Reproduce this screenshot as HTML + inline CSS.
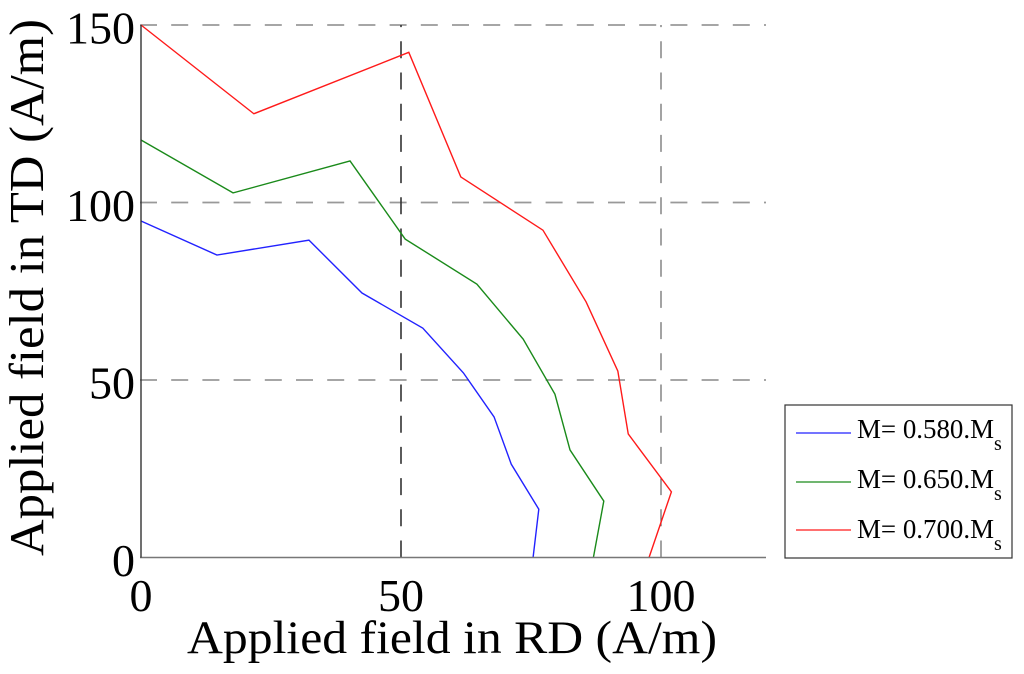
<!DOCTYPE html>
<html lang="en">
<head>
<meta charset="utf-8">
<title>Applied field chart</title>
<style>
html,body{margin:0;padding:0;background:#fff;width:1024px;height:674px;overflow:hidden}
svg{display:block}
text{font-family:"Liberation Serif",serif;fill:#000}
</style>
</head>
<body>
<svg id="chart" width="1024" height="674" viewBox="0 0 1024 674" xmlns="http://www.w3.org/2000/svg">
<g id="grid"></g>
<g id="series"></g>
<g id="axes"></g>
<text x="187" y="653" font-size="47" textLength="530" lengthAdjust="spacingAndGlyphs">Applied field in RD (A/m)</text>
<text transform="translate(43,556) rotate(-90)" font-size="49" textLength="537" lengthAdjust="spacingAndGlyphs">Applied field in TD (A/m)</text>
<g>
<rect x="785" y="405" width="227" height="153" fill="#fff" stroke="#333" stroke-width="1.2"></rect>
<g id="legend-entries"></g>
</g>
</svg>
<script>
var xTicks = [0, 50, 100];
var yTicks = [0, 50, 100, 150];
var seriesLabels = ['0.580', '0.650', '0.700'];
var seriesColors = ['#2222ff', '#1a8a1a', '#ff1a1a'];
var blueX = [0, 14.6, 32.3, 42.5, 54.2, 62, 67.9, 71.2, 76.5, 75.4];
var blueY = [94.8, 85.2, 89.4, 74.5, 64.6, 52, 39.6, 26.3, 13.6, 0];
var greenX = [0, 17.7, 40.2, 50.8, 64.6, 73.5, 79.6, 82.5, 89, 87];
var greenY = [117.6, 102.7, 111.7, 89.7, 77, 61.5, 46, 30.3, 15.9, 0];
var redX = [0, 21.7, 51.5, 61.5, 77.3, 85.6, 91.7, 93.7, 102, 97.7];
var redY = [150, 125, 142.3, 107.2, 92.2, 72, 52.5, 34.8, 18.5, 0];

var NS = 'http://www.w3.org/2000/svg';
var LEFT = 141, BOTTOM = 557.5, XMAX = 120, YMAX = 150, PX_X = 5.2, PX_Y = 3.55;
function sx(v) { return LEFT + v * PX_X; }
function sy(v) { return BOTTOM - v * PX_Y; }
function make(tag, parent, attrs) {
  var el = document.createElementNS(NS, tag);
  for (var k in attrs) el.setAttribute(k, attrs[k]);
  parent.appendChild(el);
  return el;
}
var grid = document.getElementById('grid');
var seriesG = document.getElementById('series');
var axes = document.getElementById('axes');
var legendG = document.getElementById('legend-entries');

yTicks.forEach(function (t) {
  if (t === 0) return;
  var l = make('line', grid, {x1: sx(0) - 1, x2: sx(XMAX) + 1, y1: sy(t), y2: sy(t), stroke: '#999', 'stroke-width': 1.8, 'stroke-dasharray': '17 14.2'});
  
  
});
xTicks.forEach(function (t) {
  if (t === 0) return;
  var l = make('line', grid, {x1: sx(t), x2: sx(t), y1: sy(0), y2: sy(YMAX), stroke: t === 50 ? '#333' : '#666', 'stroke-width': t === 50 ? 1.6 : 1.2, 'stroke-dasharray': '17 14.2'});
  
  
});

var allX = [blueX, greenX, redX];
var allY = [blueY, greenY, redY];
var names = ['blue', 'green', 'red'];
allX.forEach(function (xs, i) {
  var pts = xs.map(function (x, j) { return sx(x) + ',' + sy(allY[i][j]); }).join(' ');
  var p = make('polyline', seriesG, {points: pts, fill: 'none', stroke: seriesColors[i], 'stroke-width': 1.4, 'stroke-linejoin': 'miter'});
  
  
});

var xAxis = make('line', axes, {x1: sx(0) - 1, x2: sx(XMAX) + 1, y1: sy(0), y2: sy(0), stroke: '#777', 'stroke-width': 1.5});


var yAxis = make('line', axes, {x1: sx(0), x2: sx(0), y1: sy(0), y2: sy(YMAX), stroke: '#333', 'stroke-width': 1.4});



xTicks.forEach(function (t) {
  var el = make('text', axes, {x: sx(t), y: 611, 'font-size': 46, 'text-anchor': 'middle'});
  el.textContent = String(t);
  
  
});
yTicks.forEach(function (t) {
  var el = make('text', axes, {x: 135, y: sy(t) + 18.5, 'font-size': 46, 'text-anchor': 'end'});
  el.textContent = String(t);
  
  
});

var legendRows = [433, 482, 530];
var legendBaselines = [438, 488, 538];
seriesLabels.forEach(function (lab, i) {
  var y = legendRows[i];
  var b = legendBaselines[i];
  var sw = make('line', legendG, {x1: 796, x2: 851, y1: y, y2: y, stroke: seriesColors[i], 'stroke-width': 1.2});
  
  
  var t = make('text', legendG, {x: 857, y: b, 'font-size': 27, textLength: 137, lengthAdjust: 'spacingAndGlyphs'});
  t.textContent = 'M= ' + lab + '.M';
  
  
  var s = make('text', legendG, {x: 994, y: b + 12, 'font-size': 20});
  s.textContent = 's';
  
  
});
</script>
</body>
</html>
